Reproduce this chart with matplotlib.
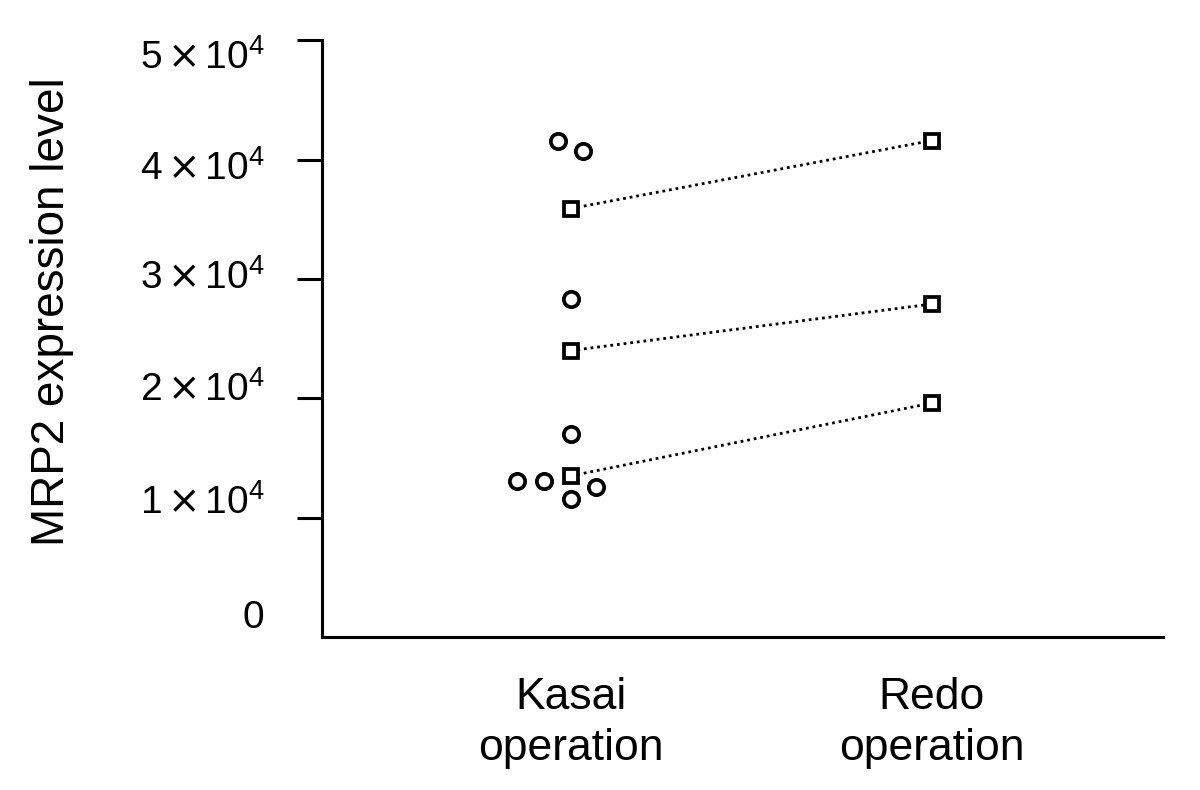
import matplotlib
matplotlib.use("Agg")
import matplotlib.pyplot as plt
from matplotlib.transforms import ScaledTranslation

plt.rcParams['font.family'] = ['Liberation Sans', 'DejaVu Sans']
plt.rcParams['mathtext.fontset'] = 'custom'
plt.rcParams['mathtext.rm'] = 'Liberation Sans'
plt.rcParams['mathtext.it'] = 'Liberation Sans:italic'
plt.rcParams['mathtext.sf'] = 'DejaVu Sans'

# Data
groups = ["Kasai\noperation", "Redo\noperation"]
kasai_only_values = [41600, 40700, 28300, 17000, 13100, 13100, 11600, 12600]
kasai_only_jitter = [-0.036, 0.033, 0.0, 0.0, -0.15, -0.075, 0.0, 0.069]
paired_kasai = [35900, 24000, 13500]
paired_redo = [41600, 27900, 19600]
ytick_values = [0, 10000, 20000, 30000, 40000, 50000]
ytick_labels = ["0", r"$1\,\mathsf{\times}\,10^{4}$", r"$2\,\mathsf{\times}\,10^{4}$",
                r"$3\,\mathsf{\times}\,10^{4}$", r"$4\,\mathsf{\times}\,10^{4}$",
                r"$5\,\mathsf{\times}\,10^{4}$"]
# vertical nudge of each tick label (pixels, positive = up), as in the original layout
ytick_label_nudge_px = [19, 15, 8, 1, -9, -18]

fig = plt.figure(figsize=(12, 7.9), dpi=100)
ax = fig.add_axes([0.268, 0.1937, 0.701, 0.7553])

xk, xr = 1, 2
for a, b in zip(paired_kasai, paired_redo):
    ax.plot([xk, xr], [a, b], linestyle=(0, (1, 1.4)), color='black', lw=2.0, zorder=1)
mk = dict(linestyle='none', mfc='white', mec='black', mew=2.7, zorder=3)
ax.plot([xk]*len(paired_kasai), paired_kasai, marker='s', ms=10.5, **mk)
ax.plot([xr]*len(paired_redo), paired_redo, marker='s', ms=10.5, **mk)
ax.plot([xk + j for j in kasai_only_jitter], kasai_only_values, marker='o', ms=11, **mk)

ax.set_xlim(0.31, 2.64)
ax.set_ylim(0, 50000)
ax.set_xticks([xk, xr])
ax.set_xticklabels(groups, fontsize=32, linespacing=1.3)
ax.tick_params(axis='x', length=0, pad=29)
ax.set_yticks(ytick_values)
ax.set_yticklabels([])
ax.tick_params(axis='y', length=18, width=2.2)
ax.yaxis.get_major_ticks()[0].tick1line.set_visible(False)

ytrans = ax.get_yaxis_transform()
for v, lab, dy in zip(ytick_values, ytick_labels, ytick_label_nudge_px):
    ax.text(-0.0678, v, lab, fontsize=28, ha='right', va='center',
            transform=ytrans + ScaledTranslation(0, dy / 100, fig.dpi_scale_trans),
            clip_on=False)

for s in ['top', 'right']:
    ax.spines[s].set_visible(False)
for s in ['left', 'bottom']:
    ax.spines[s].set_linewidth(2.2)

fig.text(52 / 1200, 1 - 312 / 790, "MRP2 expression level", fontsize=33,
         rotation=90, ha='center', va='center')

fig.savefig("out.png", dpi=100)
